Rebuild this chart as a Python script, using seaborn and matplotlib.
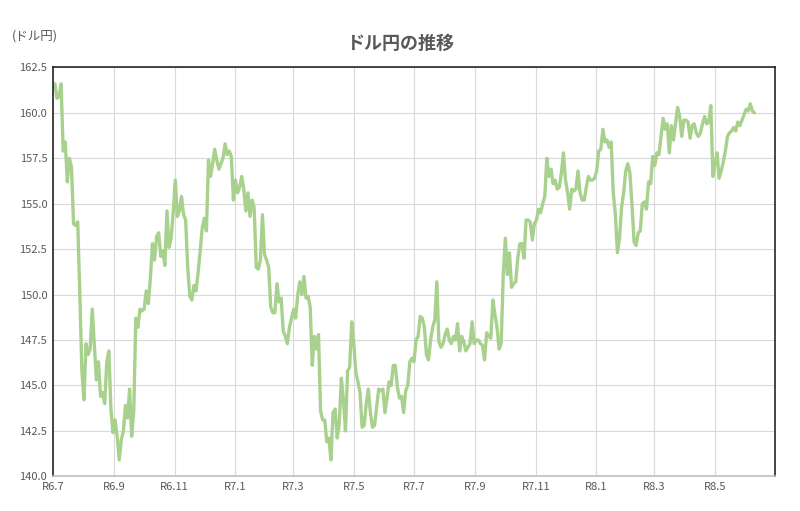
import pandas as pd
import numpy as np
import matplotlib.pyplot as plt
import matplotlib.dates as mdates
import seaborn as sns

sns.set_theme(style="whitegrid")
plt.rcParams['font.family'] = ['Noto Sans CJK JP', 'DejaVu Sans']

# USD/JPY rate, roughly every two business days
usdjpy = [
    161.5, 161.6, 160.8, 160.9, 161.6, 157.9, 158.4, 156.2, 157.5, 157.0,
    153.9, 153.8, 154.0, 150.1, 145.8, 144.2, 147.3, 146.7, 147.0, 149.2,
    147.3, 145.3, 146.3, 144.4, 144.6, 144.0, 146.3, 146.9, 143.7, 142.4,
    143.1, 142.2, 140.9, 142.0, 142.5, 143.9, 143.2, 144.8, 142.2, 143.6,
    148.7, 148.2, 149.2, 149.1, 149.2, 150.2, 149.5, 150.9, 152.8, 151.9,
    153.2, 153.4, 152.1, 152.4, 151.6, 154.6, 152.6, 153.1, 154.5, 156.3,
    154.3, 154.6, 155.4, 154.4, 154.1, 151.5, 149.9, 149.7, 150.5, 150.2,
    151.2, 152.4, 153.7, 154.2, 153.5, 157.4, 156.5, 157.2, 158.0, 157.4,
    156.9, 157.2, 157.5, 158.3, 157.7, 157.9, 157.6, 155.2, 156.3, 155.6,
    155.9, 156.5, 155.8, 154.6, 155.6, 154.3, 155.2, 154.8, 151.5, 151.4,
    151.9, 154.4, 152.2, 151.9, 151.5, 149.3, 149.0, 149.0, 150.6, 149.6,
    149.8, 148.0, 147.7, 147.3, 148.2, 148.7, 149.2, 148.7, 150.0, 150.7,
    150.0, 151.0, 149.8, 149.9, 149.3, 146.1, 147.7, 147.0, 147.8, 143.6,
    143.1, 143.1, 141.9, 142.1, 140.9, 143.5, 143.7, 142.1, 142.9, 145.4,
    144.2, 142.5, 145.8, 146.0, 148.5, 147.3, 145.7, 145.2, 144.6, 142.7,
    142.8, 144.0, 144.8, 143.5, 142.7, 142.8, 143.8, 144.8, 144.7, 144.8,
    143.5, 144.3, 145.2, 145.0, 146.1, 146.1, 144.9, 144.3, 144.4, 143.5,
    144.7, 145.0, 146.3, 146.5, 146.3, 147.5, 147.7, 148.8, 148.7, 148.2,
    146.7, 146.4, 147.5, 148.2, 148.6, 150.7, 147.4, 147.1, 147.3, 147.8,
    148.1, 147.5, 147.3, 147.7, 147.5, 148.4, 146.9, 147.7, 147.4, 146.9,
    147.1, 147.3, 148.5, 147.3, 147.5, 147.5, 147.3, 147.2, 146.4, 147.9,
    147.7, 147.6, 149.7, 148.9, 148.2, 147.0, 147.3, 151.1, 153.1, 151.1,
    152.3, 150.4, 150.6, 150.7, 152.0, 152.8, 152.8, 152.0, 154.1, 154.1,
    154.0, 153.0, 153.9, 154.1, 154.7, 154.5, 155.0, 155.4, 157.5, 156.5,
    156.9, 156.1, 156.3, 155.8, 155.9, 156.7, 157.8, 156.3, 155.6, 154.7,
    155.8, 155.7, 155.8, 156.8, 155.6, 155.2, 155.2, 155.9, 156.5, 156.3,
    156.3, 156.4, 156.8, 157.9, 158.0, 159.1, 158.4, 158.5, 158.1, 158.4,
    155.6, 154.4, 152.3, 153.1, 154.8, 155.6, 156.8, 157.2, 156.7, 155.0,
    152.9, 152.7, 153.4, 153.5, 155.0, 155.1, 154.7, 156.2, 156.1, 157.6,
    157.1, 157.8, 157.7, 158.7, 159.7, 159.1, 159.4, 157.8, 159.3, 158.5,
    159.4, 160.3, 159.8, 158.7, 159.6, 159.6, 159.5, 158.6, 159.3, 159.4,
    158.9, 158.7, 158.9, 159.4, 159.8, 159.4, 159.5, 160.4, 156.5, 157.2,
    157.8, 156.4, 156.8, 157.3, 157.9, 158.7, 158.9, 159.0, 159.2, 159.0,
    159.5, 159.3, 159.6, 159.9, 160.2, 160.1, 160.5, 160.1, 160.0,
]
start_date = "2024-07-01"
end_date = "2026-06-10"
tick_labels = ["R6.7", "R6.9", "R6.11", "R7.1", "R7.3", "R7.5", "R7.7",
               "R7.9", "R7.11", "R8.1", "R8.3", "R8.5"]

df = pd.DataFrame({
    "date": pd.date_range(start_date, end_date, periods=len(usdjpy)),
    "rate": usdjpy,
})

fig = plt.figure(figsize=(8, 5.11), dpi=100)
ax = fig.add_axes([0.066, 0.068, 0.903, 0.8])

sns.lineplot(data=df, x="date", y="rate", ax=ax, color="#A9D18E", linewidth=2.4)

ticks = pd.date_range("2024-07-01", periods=len(tick_labels), freq="2MS")
ax.set_xticks(ticks)
ax.set_xticklabels(tick_labels, fontsize=8, color="#595959")
ax.set_xlim(pd.Timestamp("2024-07-01"), pd.Timestamp("2026-07-01"))
ax.set_ylim(140, 162.5)
ax.set_yticks(np.arange(140, 162.6, 2.5))
ax.set_yticklabels([f"{v:.1f}" for v in np.arange(140, 162.6, 2.5)],
                   fontsize=8, color="#595959")
ax.tick_params(axis="both", length=0, pad=4)
ax.set_xlabel("")
ax.set_ylabel("")
ax.grid(color="#d9d9d9", linewidth=0.8)
for s in ax.spines.values():
    s.set_color("#262626")
    s.set_linewidth(1.2)
ax.spines["bottom"].set_color("#bfbfbf")

fig.text(0.5, 0.915, "ドル円の推移", ha="center", va="center",
         fontsize=13, fontweight="bold", color="#595959")
fig.text(0.015, 0.93, "(ドル円)", ha="left", va="center",
         fontsize=9, color="#595959")

fig.savefig("out.png", dpi=100)
